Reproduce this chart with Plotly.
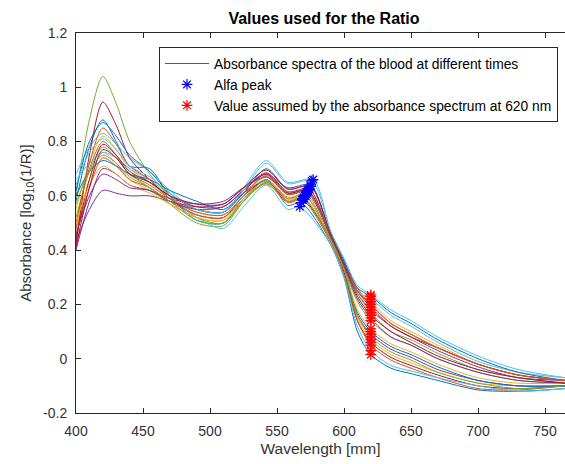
import plotly.graph_objects as go

# Wavelength grid (nm) on which the spectra were read
wavelengths = [400, 410, 420, 430, 440, 455, 470, 490, 510, 525, 542, 558,
               590, 600, 610, 620, 635, 650, 670, 700, 730, 765]

# Absorbance spectra at different times
abs_t01 = [0.58, 0.78, 0.88, 0.80, 0.71, 0.70, 0.60, 0.51, 0.50, 0.59, 0.66, 0.565, 0.42, 0.30, 0.10, 0.015, -0.035, -0.055, -0.08, -0.115, -0.12, -0.11]
abs_t02 = [0.50, 0.70, 0.80, 0.75, 0.68, 0.64, 0.59, 0.55, 0.54, 0.61, 0.67, 0.61, 0.46, 0.36, 0.26, 0.20, 0.13, 0.09, 0.04, -0.02, -0.06, -0.08]
abs_t03 = [0.47, 0.66, 0.76, 0.72, 0.66, 0.62, 0.57, 0.52, 0.51, 0.58, 0.65, 0.585, 0.43, 0.32, 0.15, 0.07, 0.015, -0.015, -0.05, -0.09, -0.10, -0.10]
abs_t04 = [0.43, 0.55, 0.62, 0.61, 0.60, 0.60, 0.58, 0.56, 0.57, 0.63, 0.68, 0.63, 0.46, 0.35, 0.24, 0.18, 0.12, 0.08, 0.03, -0.03, -0.07, -0.08]
abs_t05 = [0.60, 0.88, 1.04, 0.94, 0.80, 0.68, 0.60, 0.52, 0.50, 0.58, 0.65, 0.59, 0.44, 0.33, 0.21, 0.14, 0.08, 0.05, 0.00, -0.05, -0.08, -0.09]
abs_t06 = [0.68, 0.78, 0.83, 0.79, 0.74, 0.69, 0.62, 0.55, 0.54, 0.63, 0.73, 0.65, 0.47, 0.36, 0.25, 0.22, 0.16, 0.12, 0.06, -0.01, -0.05, -0.07]
abs_t07 = [0.42, 0.75, 0.945, 0.86, 0.74, 0.66, 0.59, 0.53, 0.52, 0.60, 0.655, 0.58, 0.44, 0.32, 0.14, 0.06, 0.005, -0.025, -0.06, -0.10, -0.11, -0.10]
abs_t08 = [0.62, 0.80, 0.87, 0.82, 0.75, 0.69, 0.61, 0.55, 0.54, 0.61, 0.70, 0.625, 0.46, 0.36, 0.26, 0.23, 0.17, 0.13, 0.07, 0.00, -0.05, -0.08]
abs_t09 = [0.45, 0.63, 0.74, 0.71, 0.66, 0.63, 0.58, 0.53, 0.52, 0.59, 0.645, 0.575, 0.43, 0.31, 0.14, 0.05, -0.005, -0.035, -0.07, -0.11, -0.115, -0.10]
abs_t10 = [0.55, 0.72, 0.82, 0.77, 0.70, 0.65, 0.59, 0.54, 0.53, 0.60, 0.685, 0.615, 0.46, 0.35, 0.25, 0.21, 0.14, 0.10, 0.05, -0.02, -0.06, -0.08]
abs_t11 = [0.40, 0.58, 0.70, 0.68, 0.64, 0.62, 0.59, 0.57, 0.58, 0.63, 0.67, 0.605, 0.45, 0.33, 0.16, 0.09, 0.035, 0.005, -0.04, -0.08, -0.10, -0.10]
abs_t12 = [0.52, 0.69, 0.78, 0.74, 0.68, 0.63, 0.57, 0.50, 0.49, 0.58, 0.66, 0.595, 0.44, 0.34, 0.24, 0.17, 0.10, 0.07, 0.02, -0.04, -0.07, -0.09]
abs_t13 = [0.66, 0.72, 0.76, 0.74, 0.70, 0.66, 0.60, 0.52, 0.48, 0.56, 0.64, 0.55, 0.42, 0.30, 0.12, 0.03, -0.025, -0.045, -0.07, -0.10, -0.12, -0.11]
abs_t14 = [0.44, 0.66, 0.79, 0.75, 0.69, 0.65, 0.60, 0.56, 0.56, 0.62, 0.68, 0.61, 0.45, 0.35, 0.25, 0.19, 0.12, 0.08, 0.04, -0.02, -0.06, -0.08]
abs_t15 = [0.60, 0.69, 0.73, 0.71, 0.68, 0.66, 0.62, 0.58, 0.55, 0.61, 0.655, 0.59, 0.44, 0.33, 0.17, 0.10, 0.045, 0.015, -0.03, -0.08, -0.10, -0.10]
abs_t16 = [0.48, 0.72, 0.85, 0.79, 0.71, 0.66, 0.59, 0.54, 0.53, 0.60, 0.675, 0.605, 0.45, 0.35, 0.25, 0.20, 0.13, 0.09, 0.04, -0.02, -0.06, -0.08]
abs_t17 = [0.50, 0.64, 0.71, 0.68, 0.64, 0.61, 0.57, 0.52, 0.51, 0.59, 0.655, 0.59, 0.44, 0.33, 0.18, 0.11, 0.055, 0.025, -0.02, -0.07, -0.09, -0.09]
abs_t18 = [0.46, 0.60, 0.68, 0.66, 0.63, 0.62, 0.58, 0.55, 0.56, 0.62, 0.685, 0.615, 0.45, 0.34, 0.22, 0.15, 0.08, 0.05, 0.00, -0.05, -0.08, -0.09]
abs_t19 = [0.57, 0.69, 0.75, 0.72, 0.67, 0.63, 0.58, 0.51, 0.50, 0.58, 0.645, 0.58, 0.44, 0.33, 0.16, 0.08, 0.025, -0.005, -0.05, -0.09, -0.11, -0.10]
abs_t20 = [0.64, 0.76, 0.81, 0.77, 0.71, 0.67, 0.61, 0.55, 0.54, 0.62, 0.72, 0.645, 0.47, 0.37, 0.27, 0.235, 0.18, 0.14, 0.08, 0.01, -0.04, -0.07]
abs_t21 = [0.41, 0.63, 0.77, 0.74, 0.68, 0.65, 0.60, 0.57, 0.57, 0.63, 0.695, 0.625, 0.46, 0.35, 0.23, 0.16, 0.10, 0.06, 0.01, -0.04, -0.07, -0.09]

spectra = [abs_t01, abs_t02, abs_t03, abs_t04, abs_t05, abs_t06, abs_t07,
           abs_t08, abs_t09, abs_t10, abs_t11, abs_t12, abs_t13, abs_t14,
           abs_t15, abs_t16, abs_t17, abs_t18, abs_t19, abs_t20, abs_t21]

# Alfa peak of each spectrum (wavelength, absorbance)
alpha_wl = [568, 573, 570, 575, 571, 577, 569, 575, 569, 574, 572,
            572, 567, 573, 571, 573, 571, 574, 570, 576, 575]
alpha_val = [0.575, 0.62, 0.595, 0.64, 0.60, 0.66, 0.59, 0.635, 0.585, 0.625, 0.615,
             0.605, 0.56, 0.62, 0.60, 0.615, 0.60, 0.625, 0.59, 0.655, 0.635]

ref_wl = 620

x_tickvals = [400, 450, 500, 550, 600, 650, 700, 750]
y_tickvals = [-0.2, 0, 0.2, 0.4, 0.6, 0.8, 1.0, 1.2]
y_ticktext = ['-0.2', '0', '0.2', '0.4', '0.6', '0.8', '1', '1.2']

colors = ['#0072BD', '#D95319', '#EDB120', '#7E2F8E', '#77AC30', '#4DBEEE', '#A2142F']
FONT = 'Liberation Sans, Arial, sans-serif'

fig = go.Figure()
for i, s in enumerate(spectra):
    pts = sorted(list(zip(wavelengths, s)) + [(alpha_wl[i], alpha_val[i])])
    fig.add_trace(go.Scatter(
        x=[p[0] for p in pts], y=[p[1] for p in pts], mode='lines',
        line=dict(color=colors[i % 7], width=1, shape='spline', smoothing=0.8),
        name='Absorbance spectra of the blood at different times',
        legendgroup='spectra', showlegend=(i == 0), hoverinfo='skip'))

fig.add_trace(go.Scatter(
    x=alpha_wl, y=alpha_val, mode='markers', name='Alfa peak',
    marker=dict(symbol='asterisk-open', size=9, color='#0000FF',
                line=dict(color='#0000FF', width=1.2))))

idx = wavelengths.index(ref_wl)
val_620 = [s[idx] for s in spectra]
fig.add_trace(go.Scatter(
    x=[ref_wl] * len(val_620), y=val_620, mode='markers',
    name='Value assumed by the absorbance spectrum at 620 nm',
    marker=dict(symbol='asterisk-open', size=9, color='#FF0000',
                line=dict(color='#FF0000', width=1.2))))

L, R, T, B = 76, 0, 33, 51
W, H = 565, 464
pw = W - L - R
ph = H - T - B

fig.update_layout(
    width=W, height=H,
    margin=dict(l=L, r=R, t=T, b=B, pad=0),
    paper_bgcolor='white', plot_bgcolor='white',
    font=dict(family=FONT, size=13, color='#333333'),
    title=dict(text='<b>Values used for the Ratio</b>', xref='container', yref='container',
               x=324 / W, y=1 - 18 / H, xanchor='center', yanchor='middle',
               font=dict(family=FONT, size=16, color='#000000')),
    xaxis=dict(range=[400, 400 + pw / 1.34], tickvals=x_tickvals,
               showline=True, linecolor='#262626', linewidth=1, mirror='ticks',
               ticks='inside', ticklen=5, tickcolor='#262626', showgrid=False,
               zeroline=False, ticklabelstandoff=5,
               tickfont=dict(family=FONT, size=14, color='#333333'),
               title=dict(text='Wavelength [mm]', standoff=5,
                          font=dict(family=FONT, size=15.5, color='#333333'))),
    yaxis=dict(range=[-0.2, 1.2], tickvals=y_tickvals, ticktext=y_ticktext,
               showline=True, linecolor='#262626', linewidth=1, mirror=False,
               ticks='inside', ticklen=5, tickcolor='#262626', showgrid=False,
               zeroline=False, ticklabelstandoff=5,
               tickfont=dict(family=FONT, size=14, color='#333333'),
               title=dict(text='Absorbance [log<sub>10</sub>(1/R)]', standoff=7,
                          font=dict(family=FONT, size=15, color='#333333'))),
    legend=dict(x=(558 - L) / pw, y=(H - B - 47) / ph, xanchor='right', yanchor='top',
                bgcolor='white', bordercolor='#262626', borderwidth=1,
                font=dict(family=FONT, size=13.8, color='#000000'),
                tracegroupgap=0, itemwidth=44),
    showlegend=True,
)

fig.write_html('out.html')
